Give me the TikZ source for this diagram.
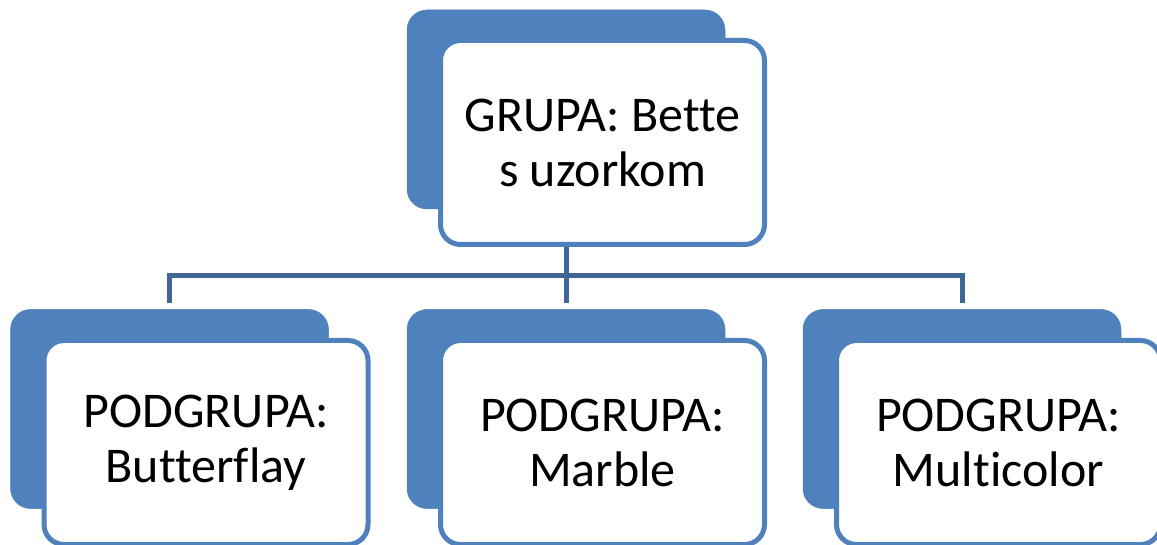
\documentclass[tikz,border=0pt]{standalone}
\usepackage{fontspec}
\setmainfont[Ligatures=NoCommon]{Carlito}
\usetikzlibrary{calc}
\definecolor{accent}{HTML}{4F81BD}
\definecolor{connc}{HTML}{3F6696}
\begin{document}
\begin{tikzpicture}[x=1pt,y=1pt,
  backbox/.style={fill=accent,draw=accent,line width=0.5pt,rounded corners=20pt,minimum width=318pt,minimum height=199pt,inner sep=0pt},
  frontbox/.style={fill=white,draw=accent,line width=5pt,rounded corners=20pt,minimum width=324pt,minimum height=204pt,inner sep=0pt,align=center,font=\fontsize{50}{55}\selectfont},
  conn/.style={draw=connc,line width=5pt}]
\useasboundingbox (0,0) rectangle (1157,544);
% top
\node[backbox] (tb) at (566,434.5) {};
\node[frontbox] (top) at (602.5,401.5) {GRUPA: Bette\\s uzorkom};
% bottom row
\node[backbox] (lb) at (169.5,135) {};
\node[frontbox] (left) at (206,101.5) {PODGRUPA:\\Butterflay};
\node[backbox] (mb) at (566,135) {};
\node[frontbox] (mid) at (602.5,101.5) {PODGRUPA:\\Marble};
\node[backbox] (rb) at (962,135) {};
\node[frontbox] (right) at (998.5,101.5) {PODGRUPA:\\Multicolor};
% connectors
\coordinate (j) at (566,268);
\draw[conn] (tb.center |- top.south) -- (j);
\draw[conn] ($(lb.north)+(0,6)$) |- (j) -| ($(rb.north)+(0,6)$);
\draw[conn] (j) -- ($(mb.north)+(0,6)$);
\end{tikzpicture}
\end{document}
